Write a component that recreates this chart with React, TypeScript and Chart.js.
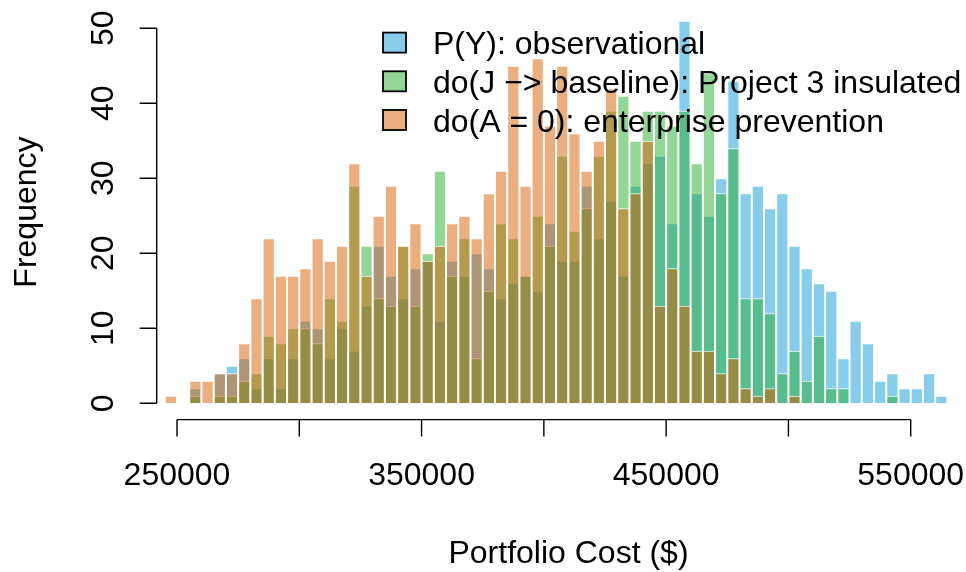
import { useEffect, useRef } from 'react';
import { Chart, registerables } from 'chart.js';

Chart.register(...registerables);

// ---- data ----
const BIN_START = 245000;
const BIN_WIDTH = 5000;

const observational = [
  0, 0, 2, 0, 4, 5, 6, 2, 6, 2,
  6, 11, 10, 6, 10, 7, 13, 21, 17, 14,
  18, 19, 11, 19, 17, 20, 18, 14, 16, 17,
  15, 24, 19, 19, 29, 22, 27, 17, 29, 32,
  33, 24, 51, 28, 25, 30, 43, 28, 29, 26,
  28, 21, 18, 16, 15, 6, 11, 8, 3, 4,
  2, 2, 4, 1,
];

const insulated = [
  0, 0, 1, 0, 1, 1, 3, 4, 9, 8,
  10, 10, 8, 14, 11, 29, 21, 14, 13, 21,
  13, 20, 31, 17, 22, 6, 15, 24, 22, 17,
  25, 21, 33, 23, 26, 33, 39, 41, 35, 39,
  39, 37, 39, 32, 44, 28, 34, 14, 14, 12,
  4, 7, 3, 9, 2, 2, 0, 0, 0, 1,
  0, 0, 0, 0,
];

const prevention = [
  1, 0, 3, 3, 4, 4, 8, 14, 22, 17,
  17, 18, 22, 19, 21, 32, 17, 25, 29, 21,
  24, 19, 21, 24, 25, 22, 28, 31, 45, 29,
  46, 37, 45, 36, 31, 35, 42, 26, 28, 35,
  13, 18, 13, 7, 7, 4, 6, 2, 1, 2,
  0, 1, 0, 0, 0, 0, 0, 0, 0, 0,
  0, 0, 0, 0,
];

const xTicks = [250000, 300000, 350000, 400000, 450000, 500000, 550000];
const xTickLabels = ['250000', '', '350000', '', '450000', '', '550000'];
const yTicks = [0, 10, 20, 30, 40, 50];
const yTickLabels = ['0', '10', '20', '30', '40', '50'];

const seriesNames = [
  'P(Y): observational',
  'do(J \u2212> baseline): Project 3 insulated',
  'do(A = 0): enterprise prevention',
];
const seriesColors = [
  'rgba(12,156,216,0.5)',
  'rgba(40,175,45,0.5)',
  'rgba(213,94,0,0.5)',
];
const xTitle = 'Portfolio Cost ($)';
const yTitle = 'Frequency';

const FONT = '"Liberation Sans", Arial, Helvetica, sans-serif';

const binCenters = observational.map((_, i) => BIN_START + BIN_WIDTH * (i + 0.5));
const toPoints = (vals: number[]) => vals.map((v, i) => ({ x: binCenters[i], y: v }));

const rStylePlugin = {
  id: 'rStyle',
  afterDatasetsDraw(chart: any) {
    const { ctx, chartArea } = chart;
    const xs = chart.scales.x;
    const ys = chart.scales.y;
    ctx.save();
    ctx.strokeStyle = '#000';
    ctx.fillStyle = '#000';
    ctx.lineWidth = 1.4;
    ctx.font = `32px ${FONT}`;

    // x axis
    const axY = chartArea.bottom + 1;
    const xa = xs.getPixelForValue(xTicks[0]);
    const xb = xs.getPixelForValue(xTicks[xTicks.length - 1]);
    ctx.beginPath();
    ctx.moveTo(xa, axY);
    ctx.lineTo(xb, axY);
    xTicks.forEach((t) => {
      const px = xs.getPixelForValue(t);
      ctx.moveTo(px, axY);
      ctx.lineTo(px, axY + 17);
    });
    ctx.stroke();
    ctx.textAlign = 'center';
    ctx.textBaseline = 'alphabetic';
    xTicks.forEach((t, i) => {
      if (!xTickLabels[i]) return;
      ctx.fillText(xTickLabels[i], xs.getPixelForValue(t), 485);
    });
    ctx.fillText(xTitle, 568.5, 563);

    // y axis
    const axX = chartArea.left;
    const ya = ys.getPixelForValue(yTicks[0]);
    const yb = ys.getPixelForValue(yTicks[yTicks.length - 1]);
    ctx.beginPath();
    ctx.moveTo(axX, ya);
    ctx.lineTo(axX, yb);
    yTicks.forEach((t) => {
      const py = ys.getPixelForValue(t);
      ctx.moveTo(axX, py);
      ctx.lineTo(axX - 17, py);
    });
    ctx.stroke();
    yTicks.forEach((t, i) => {
      const py = ys.getPixelForValue(t);
      ctx.save();
      ctx.translate(113, py);
      ctx.rotate(-Math.PI / 2);
      ctx.textAlign = 'center';
      ctx.fillText(yTickLabels[i], 0, 0);
      ctx.restore();
    });
    ctx.save();
    ctx.translate(36, (chartArea.top + chartArea.bottom) / 2);
    ctx.rotate(-Math.PI / 2);
    ctx.textAlign = 'center';
    ctx.fillText(yTitle, 0, 0);
    ctx.restore();

    // legend
    const rowCenters = [42.6, 81.3, 120];
    seriesNames.forEach((name, i) => {
      const cy = rowCenters[i];
      ctx.fillStyle = '#fff';
      ctx.fillRect(383, cy - 10, 23, 20);
      ctx.fillStyle = seriesColors[i];
      ctx.fillRect(383, cy - 10, 23, 20);
      ctx.lineWidth = 1.8;
      ctx.strokeStyle = '#000';
      ctx.strokeRect(383, cy - 10, 23, 20);
      ctx.fillStyle = '#000';
      ctx.textAlign = 'left';
      ctx.fillText(name, 433, cy + 11.5);
    });
    ctx.restore();
  },
};

export default function App() {
  const canvasRef = useRef<HTMLCanvasElement | null>(null);

  useEffect(() => {
    const canvas = canvasRef.current;
    if (!canvas) return;
    const barCommon = {
      borderColor: '#ffffff',
      borderWidth: 1,
      borderSkipped: 'start',
      inflateAmount: 0,
      grouped: false,
      barPercentage: 1,
      categoryPercentage: 1,
    };
    const chart = new Chart(canvas, {
      type: 'bar',
      data: {
        datasets: [
          { label: seriesNames[0], data: toPoints(observational), backgroundColor: seriesColors[0], order: 3, ...barCommon },
          { label: seriesNames[1], data: toPoints(insulated), backgroundColor: seriesColors[1], order: 2, ...barCommon },
          { label: seriesNames[2], data: toPoints(prevention), backgroundColor: seriesColors[2], order: 1, ...barCommon },
        ],
      } as any,
      options: {
        animation: false,
        responsive: false,
        devicePixelRatio: 1,
        layout: { padding: { left: 156.7, right: 6, top: 5.5, bottom: 153.4 } },
        plugins: { legend: { display: false }, tooltip: { enabled: false } },
        scales: {
          x: {
            type: 'linear',
            display: false,
            offset: false,
            min: 241700,
            max: 570154,
            ticks: { stepSize: 50000 },
          },
          y: {
            type: 'linear',
            display: false,
            min: -2.04,
            max: 53.04,
          },
        },
      } as any,
      plugins: [rStylePlugin],
    });
    return () => chart.destroy();
  }, []);

  return (
    <div style={{ position: 'absolute', left: 0, top: 0, width: 966, height: 572, background: '#fff' }}>
      <canvas ref={canvasRef} width={966} height={572} style={{ display: 'block' }} />
    </div>
  );
}
